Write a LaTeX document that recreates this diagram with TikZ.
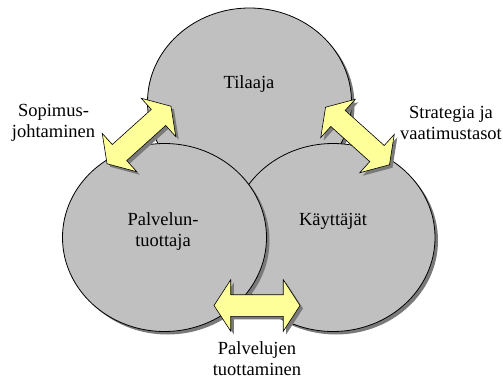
\documentclass[tikz,border=0pt]{standalone}
\usepackage{fontspec}
\setmainfont{Liberation Serif}
\usepackage{xcolor}
\usepackage{tikz}
\usetikzlibrary{shapes.geometric, shapes.arrows, shadows}
\definecolor{ptGray}{HTML}{C0C0C0}
\definecolor{ptShadow}{HTML}{7A7A7A}
\definecolor{ptYellow}{HTML}{FFFF99}
\tikzset{
  party/.style={
    ellipse, draw=black, line width=0.8pt,
    fill=ptGray,
    minimum width=204pt, minimum height=188pt,
    inner sep=0pt,
    drop shadow={shadow xshift=3pt, shadow yshift=-3pt, fill=ptShadow, opacity=1}
  },
  link/.style={
    double arrow, draw=black, line width=0.6pt,
    fill=ptYellow,
    minimum height=86pt,
    inner sep=0pt, text width=0pt, text height=10.5pt, text depth=10.5pt,
    double arrow head extend=15pt,
    double arrow tip angle=114,
    drop shadow={shadow xshift=3pt, shadow yshift=-3pt, fill=ptShadow, opacity=1}
  },
  caption/.style={font=\fontsize{18.5}{21}\selectfont, align=center, inner sep=0pt}
}

\begin{document}
\begin{tikzpicture}[x=1pt, y=-1pt]
  \useasboundingbox (0,0) rectangle (503,380);
  % the three parties
  \node[party] (tilaaja) at (249.5,102) {};
  \node[party] (kayttajat) at (333,237.5) {};
  \node[party] (tuottaja) at (164.5,237.5) {};
  \node[caption] (tilaajaText) at (249,84) {Tilaaja};
  \node[caption] (tuottajaText) at (163,232) {Palvelun-\\tuottaja};
  \node[caption] (kayttajatText) at (333,221) {Käyttäjät};
  % relations between them
  \node[link, rotate=42] (sopLink) at (139,135) {};
  \node[link, rotate=-42] (strLink) at (357.5,136) {};
  \node[link] (palLink) at (257,305.5) {};
  \node[caption] (sopText) at (53.5,123) {Sopimus-\\johtaminen};
  \node[caption] (strText) at (451,123) {Strategia ja\\vaatimustasot};
  \node[caption] (palText) at (257,359) {Palvelujen\\tuottaminen};
\end{tikzpicture}
\end{document}
